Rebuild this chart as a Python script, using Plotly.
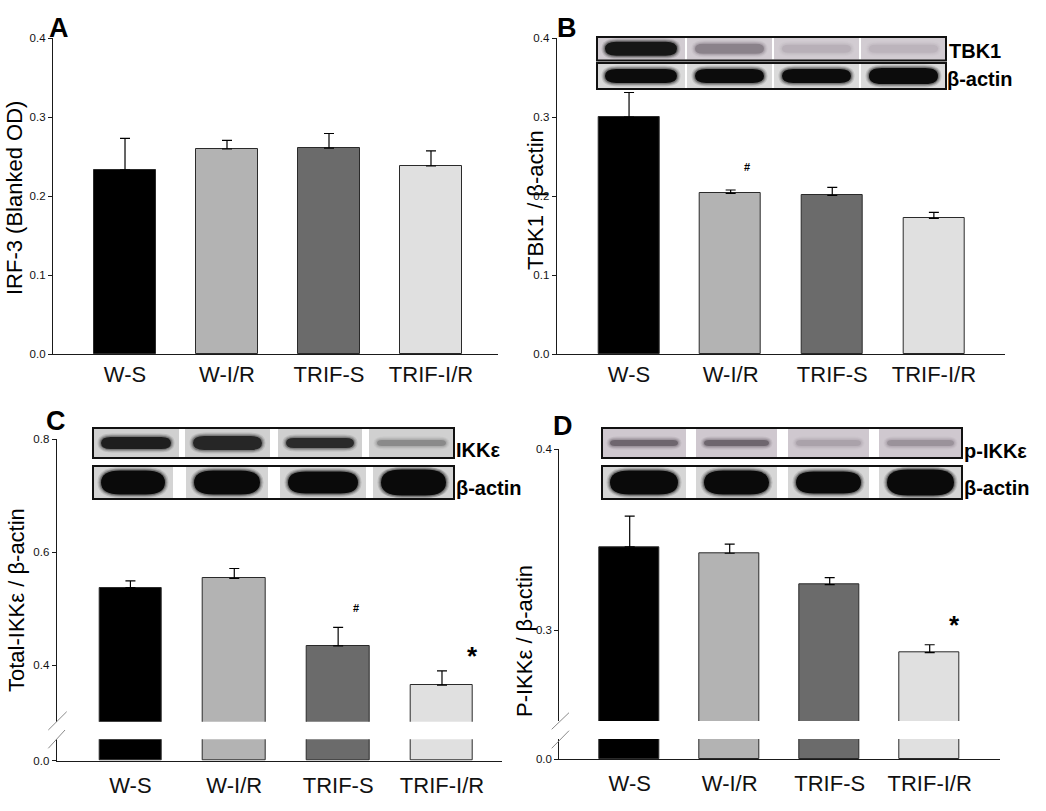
import plotly.graph_objects as go

W, H = 1046, 811
FONT = "Arial, 'Liberation Sans', sans-serif"

# ---------------- data ----------------
categories = ["W-S", "W-I/R", "TRIF-S", "TRIF-I/R"]
bar_colors = ["#000000", "#b3b3b3", "#6b6b6b", "#e0e0e0"]

irf3_mean = [0.233, 0.2595, 0.2605, 0.238]
irf3_sem = [0.040, 0.011, 0.0186, 0.019]

tbk1_mean = [0.300, 0.2034, 0.2008, 0.1717]
tbk1_sem = [0.031, 0.0042, 0.0102, 0.0076]

ikke_mean = [0.537, 0.5534, 0.4342, 0.3646]
ikke_sem = [0.0119, 0.0176, 0.0325, 0.0254]

pikke_mean = [0.3461, 0.3426, 0.3253, 0.2878]
pikke_sem = [0.017, 0.005, 0.0039, 0.0043]

# blot band appearance per lane (colour of band, half-height in px)
tbk1_band = [("#161616", 7), ("#8a828a", 5), ("#b8b0b8", 4), ("#bcb4bc", 4)]
actinB_band = [("#0c0c0c", 7), ("#0c0c0c", 7), ("#0c0c0c", 7), ("#0c0c0c", 8)]
ikke_band = [("#1e1e1e", 6), ("#262626", 7), ("#2a2a2a", 5), ("#8a8a8a", 3)]
actinC_band = [("#0a0a0a", 12), ("#0a0a0a", 12), ("#0a0a0a", 11), ("#0a0a0a", 13)]
pikke_band = [("#6e666e", 3), ("#6e666e", 3), ("#aaa2aa", 3), ("#9a929a", 3)]
actinD_band = [("#0a0a0a", 12), ("#0a0a0a", 12), ("#0a0a0a", 11), ("#0a0a0a", 13)]


def px(x):
    return x / W


def py(y):
    return 1 - y / H


def xdom(x0, x1):
    return [px(x0), px(x1)]


def ydom(ytop, ybot):
    return [py(ybot), py(ytop)]


fig = go.Figure()


def add_bars(xa, ya, means, sems=None):
    for i, c in enumerate(categories):
        kw = {}
        if sems is not None:
            kw["error_y"] = dict(type="data", symmetric=False, array=[sems[i]],
                                 arrayminus=[0], color="#000000", thickness=1.2, width=5)
        fig.add_trace(go.Bar(
            x=[c], y=[means[i]], xaxis=xa, yaxis=ya, width=0.6,
            marker=dict(color=bar_colors[i], line=dict(color="#2a2a2a", width=1)),
            showlegend=False, hoverinfo="x+y", **kw))


add_bars("x", "y", irf3_mean, irf3_sem)
add_bars("x2", "y2", tbk1_mean, tbk1_sem)
add_bars("x3", "y3", ikke_mean, ikke_sem)
add_bars("x3", "y4", ikke_mean)
add_bars("x4", "y5", pikke_mean, pikke_sem)
add_bars("x4", "y6", pikke_mean)

xcommon = dict(type="category", showline=True, linecolor="#1a1a1a", linewidth=1.2,
               ticks="", showgrid=False, zeroline=False, fixedrange=True, automargin=False,
               tickfont=dict(family=FONT, size=22, color="#111"),
               categoryorder="array", categoryarray=categories)
ycommon = dict(showline=True, linecolor="#1a1a1a", linewidth=1.2, ticks="outside",
               ticklen=4, tickcolor="#1a1a1a", showgrid=False, zeroline=False,
               tickfont=dict(family=FONT, size=11.5, color="#111"), tickformat=".1f",
               fixedrange=True, automargin=False)

fig.update_layout(
    width=W, height=H, margin=dict(l=0, r=0, t=0, b=0, autoexpand=False),
    paper_bgcolor="white", plot_bgcolor="rgba(0,0,0,0)", bargap=0,
    xaxis=dict(xcommon, domain=xdom(53, 498), range=[-0.706, 3.657], anchor="y",
               ticklabelstandoff=0),
    yaxis=dict(ycommon, domain=ydom(38, 354), range=[0, 0.4], dtick=0.1, anchor="x"),
    xaxis2=dict(xcommon, domain=xdom(556.7, 1005), range=[-0.712, 3.70], anchor="y2",
                ticklabelstandoff=0),
    yaxis2=dict(ycommon, domain=ydom(38, 354), range=[0, 0.4], dtick=0.1, anchor="x2"),
    xaxis3=dict(xcommon, domain=xdom(56.7, 501.7), range=[-0.71, 3.575], anchor="y4",
                ticklabelstandoff=5),
    yaxis3=dict(ycommon, domain=ydom(439, 721.7), range=[0.3, 0.8],
                tickvals=[0.4, 0.6, 0.8], anchor="x3"),
    yaxis4=dict(ycommon, domain=ydom(739.3, 760.7), range=[0, 0.04],
                tickvals=[0.0], anchor="x3"),
    xaxis4=dict(xcommon, domain=xdom(559.3, 1000), range=[-0.704, 3.703], anchor="y6",
                ticklabelstandoff=4),
    yaxis5=dict(ycommon, domain=ydom(449.3, 721), range=[0.25, 0.40],
                tickvals=[0.3, 0.4], anchor="x4"),
    yaxis6=dict(ycommon, domain=ydom(739, 759), range=[0, 0.04],
                tickvals=[0.0], anchor="x4"),
)

shapes = []
annotations = []


def line_px(x0, y0, x1, y1, color="#8a8a8a", width=1):
    shapes.append(dict(type="line", xref="paper", yref="paper", x0=px(x0), y0=py(y0),
                       x1=px(x1), y1=py(y1), line=dict(color=color, width=width)))


def rect_px(x0, y0, x1, y1, fill, lc=None, lw=0):
    shapes.append(dict(type="rect", xref="paper", yref="paper", x0=px(x0), y0=py(y0),
                       x1=px(x1), y1=py(y1), fillcolor=fill,
                       line=dict(color=lc or fill, width=lw), layer="above"))


def pill(x0, x1, yc, hh, color, opacity=1.0):
    r = min(hh * 1.6, (x1 - x0) / 3)
    yt, yb = yc - hh, yc + hh
    pts = [
        ("M", [(x0 + r, yt)]),
        ("L", [(x1 - r, yt)]),
        ("Q", [(x1, yt), (x1, yc)]),
        ("Q", [(x1, yb), (x1 - r, yb)]),
        ("L", [(x0 + r, yb)]),
        ("Q", [(x0, yb), (x0, yc)]),
        ("Q", [(x0, yt), (x0 + r, yt)]),
    ]
    path = ""
    for cmd, ps in pts:
        path += cmd + " " + " ".join(f"{px(a):.5f},{py(b):.5f}" for a, b in ps) + " "
    path += "Z"
    shapes.append(dict(type="path", xref="paper", yref="paper", path=path,
                       fillcolor=color, opacity=opacity, line=dict(width=0), layer="above"))


def blot_row(x0, x1, y0, y1, bg, seps, bands, pad=8):
    rect_px(x0, y0, x1, y1, bg)
    edges = [x0] + [s for s, _ in seps] + [x1]
    lanes = []
    for i in range(4):
        a = edges[i] + (seps[i - 1][1] if i > 0 else 0)
        b = edges[i + 1]
        lanes.append((a, b))
    yc = (y0 + y1) / 2
    room = (y1 - y0) / 2 - 1
    for (a, b), (col, hh) in zip(lanes, bands):
        for k, op in ((3.5, 0.12), (2.3, 0.18), (1.2, 0.3)):
            pill(a + pad - k, b - pad + k, yc, min(hh + k, room), col, op)
        pill(a + pad, b - pad, yc, hh, col, 1.0)
    for s, w in seps:
        rect_px(s, y0 + 1, s + w, y1 - 1, "#ffffff")
    shapes.append(dict(type="rect", xref="paper", yref="paper", x0=px(x0), y0=py(y0),
                       x1=px(x1), y1=py(y1), fillcolor="rgba(0,0,0,0)",
                       line=dict(color="#111111", width=2), layer="above"))


# Panel B blots
blot_row(597, 946, 37, 60.5, "#d2ccd2", [(685, 2), (772, 2), (859, 2)], tbk1_band)
blot_row(597, 946, 63, 89, "#dadada", [(685, 2), (772, 2), (859, 2)], actinB_band)
# Panel C blots
blot_row(93, 454, 428, 458, "#d0d0d0", [(179, 6), (270, 8), (362, 7)], ikke_band)
blot_row(93, 454, 466, 499, "#d4d4d4", [(173, 13), (268, 12), (366, 7)], actinC_band)
# Panel D blots
blot_row(602, 962, 428, 458, "#cfc8cf", [(686, 10), (777, 11), (869, 10)], pikke_band)
blot_row(602, 962, 466, 499, "#d6d6d6", [(686, 10), (777, 11), (869, 10)], actinD_band)

# axis break marks
line_px(48.3, 730, 66.7, 711.7)
line_px(48.3, 748.3, 65, 730)
line_px(551.7, 729.3, 569, 712.7)
line_px(551.7, 748.3, 569, 730.7)


def text_px(x, y, t, size, bold=False, xanchor="center", angle=0, yanchor="middle"):
    annotations.append(dict(
        x=px(x), y=py(y), xref="paper", yref="paper", text=f"<b>{t}</b>" if bold else t,
        showarrow=False, xanchor=xanchor, yanchor=yanchor, textangle=angle, borderpad=0,
        font=dict(family=FONT, size=size, color="#000")))


# y-axis titles
text_px(14, 198, "IRF-3 (Blanked OD)", 22, angle=-90)
text_px(536, 200, "TBK1 / β-actin", 22, angle=-90)
text_px(16, 600, "Total-IKKε / β-actin", 22, angle=-90)
text_px(524, 641, "P-IKKε / β-actin", 22, angle=-90)

# panel letters
text_px(59, 28, "A", 27, bold=True)
text_px(567, 28, "B", 27, bold=True)
text_px(56, 421, "C", 27, bold=True)
text_px(563, 426, "D", 27, bold=True)

# blot labels
text_px(948, 51, "TBK1", 20, bold=True, xanchor="left")
text_px(946, 79, "β-actin", 20, bold=True, xanchor="left")
text_px(455, 450, "IKKε", 20, bold=True, xanchor="left")
text_px(455, 488, "β-actin", 20, bold=True, xanchor="left")
text_px(963, 451, "p-IKKε", 20, bold=True, xanchor="left")
text_px(963, 488, "β-actin", 20, bold=True, xanchor="left")

# significance marks
text_px(747, 167, "#", 11, bold=True)
text_px(356, 608, "#", 11, bold=True)
text_px(472, 656, "*", 26, bold=True)
text_px(954, 625, "*", 26, bold=True)

fig.update_layout(shapes=shapes, annotations=annotations)
fig.write_html("out.html", config={"displayModeBar": False},
               post_script="document.body.style.margin='0px';"
                           "document.body.style.overflow='hidden';")
